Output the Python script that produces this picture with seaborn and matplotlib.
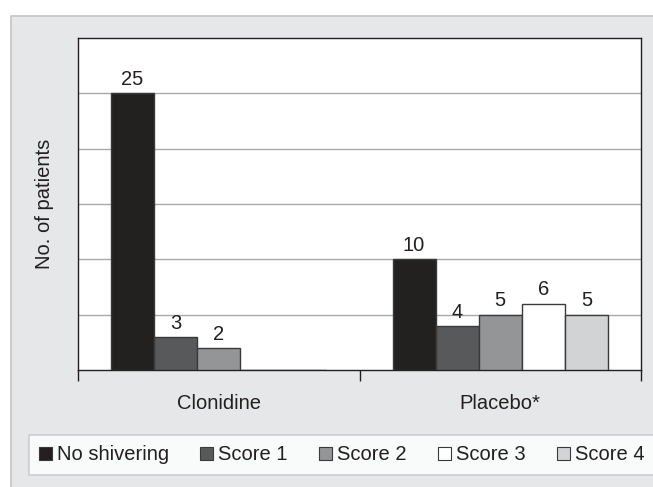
import pandas as pd
import numpy as np
import matplotlib
matplotlib.use("Agg")
import matplotlib.pyplot as plt
from matplotlib.patches import Rectangle, Patch
import seaborn as sns

# Data
groups = ["Clonidine", "Placebo*"]
scores = ["No shivering", "Score 1", "Score 2", "Score 3", "Score 4"]
clonidine = [25, 3, 2, 0, 0]
placebo = [10, 4, 5, 6, 5]
colors = ["#231f20", "#58595b", "#939598", "#ffffff", "#d1d3d4"]

df = pd.DataFrame({
    "group": [groups[0]] * 5 + [groups[1]] * 5,
    "score": scores * 2,
    "count": clonidine + placebo,
})

plt.rcParams["font.family"] = ["Liberation Sans", "DejaVu Sans"]
FS = 14.5

W, H = 653, 487
fig = plt.figure(figsize=(W / 100, H / 100), dpi=100, facecolor="white")

# grey panel behind everything
fig.patches.append(Rectangle((11 / W, -0.05), 1.1, 1 - 16 / H + 0.05,
                             transform=fig.transFigure, facecolor="#e6e7e8",
                             edgecolor="#c4c5c7", linewidth=1.2, zorder=-5))

ax = fig.add_axes([78 / W, 1 - 370 / H, (641 - 78) / W, (370 - 38) / H])
ax.set_facecolor("white")

sns.barplot(data=df, x="group", y="count", hue="score", order=groups,
            hue_order=scores, palette=colors, width=0.765, gap=0,
            edgecolor="#3a3a3a", linewidth=1.0, legend=False, ax=ax, zorder=3)

for cont, vals in zip(ax.containers, zip(clonidine, placebo)):
    labels = [str(v) if v > 0 else "" for v in vals]
    ax.bar_label(cont, labels=labels, padding=3, fontsize=FS, color="#231f20")

ax.set_xlim(-0.5, 1.5)
ax.set_ylim(0, 30)
ax.set_yticks([5, 10, 15, 20, 25])
ax.set_yticklabels([])
ax.tick_params(axis="y", length=0)
ax.yaxis.grid(True, color="#a7a9ac", linewidth=1.0, zorder=0)
ax.set_axisbelow(True)

ax.set_xticks([-0.5, 0.5, 1.5])
ax.set_xticklabels([])
ax.tick_params(axis="x", which="major", length=8, width=1.0, color="#231f20")
ax.set_xticks([0, 1], minor=True)
ax.set_xticklabels(groups, minor=True, fontsize=FS, color="#231f20")
ax.tick_params(axis="x", which="minor", length=0, pad=17)
ax.set_xlabel("")
ax.set_ylabel("No. of patients", fontsize=FS, color="#231f20", labelpad=14)

for s in ax.spines.values():
    s.set_color("#231f20")
    s.set_linewidth(1.0)

handles = [Patch(facecolor=c, edgecolor="#3a3a3a", linewidth=0.8) for c in colors]
leg = fig.legend(handles, scores, loc="center", ncol=5,
                 bbox_to_anchor=(341.5 / W, 1 - 455 / H), fontsize=FS,
                 frameon=True, fancybox=False, handlelength=0.65,
                 handleheight=0.65, handletextpad=0.25, columnspacing=1.55,
                 borderpad=0.5)
leg.get_frame().set_edgecolor("#c4c5c7")
leg.get_frame().set_linewidth(1.2)
for t in leg.get_texts():
    t.set_color("#231f20")

fig.savefig("out.png", dpi=100, facecolor="white")
